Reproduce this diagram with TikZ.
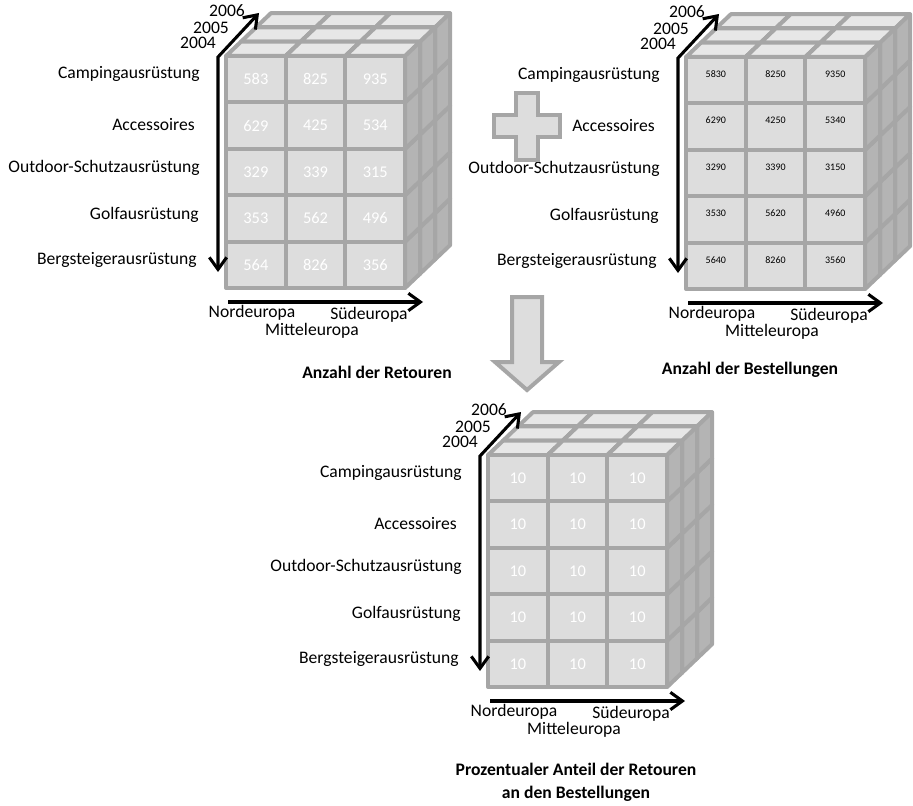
\documentclass[tikz,border=0pt]{standalone}
\usepackage{fontspec}
\setmainfont{Carlito}
\usetikzlibrary{arrows.meta}

\definecolor{cubefront}{RGB}{221,221,221}
\definecolor{cubetop}{RGB}{231,231,231}
\definecolor{cubeside}{RGB}{180,180,180}
\definecolor{cubeedge}{RGB}{166,166,166}

\tikzset{
  face/.style={draw=cubeedge, line width=3pt, line join=round},
  axis/.style={line width=2.3pt, >={Straight Barb[length=9pt,width=13pt]}},
  catlabel/.style={anchor=east, inner sep=0pt, font=\fontsize{13.2}{15}\selectfont},
  dimlabel/.style={inner sep=0pt, font=\fontsize{13.2}{15}\selectfont},
  titlelabel/.style={inner sep=0pt, align=center, font=\fontsize{13.2}{17.5}\selectfont\bfseries},
  whitenum/.style={inner sep=0pt, white, font=\fontsize{12.3}{14}\selectfont},
  smallnum/.style={inner sep=0pt, black, yshift=4.5pt, font=\fontsize{7.5}{9}\selectfont}
}

% #1,#2: top left corner of the front face, #3: values, #4: number style, #5: name
\newcommand{\datacube}[5]{%
  \foreach \lay in {2,1,0}
  \foreach \row in {4,3,2,1,0}
  \foreach \col in {0,1,2} {
    \coordinate (p) at ({#1+\col*59.7+\lay*15},{#2+\row*46.4-\lay*14.3});
    \draw[face,fill=cubetop] (p) -- ++(15,-14.3) -- ++(59.7,0) -- ++(-15,14.3) -- cycle;
    \draw[face,fill=cubeside] ([shift={(59.7,0)}]p) -- ++(15,-14.3) -- ++(0,46.4) -- ++(-15,14.3) -- cycle;
    \draw[face,fill=cubefront] (p) rectangle ++(59.7,46.4);
  }
  \foreach \v [count=\i from 0] in {#3} {
    \pgfmathtruncatemacro{\row}{floor(\i/3)}
    \pgfmathtruncatemacro{\col}{\i-3*\row}
    \node[#4] (#5-\i) at ({#1+\col*59.7+29.85},{#2+\row*46.4+23.2}) {\v};
  }
  % axes
  \coordinate (#5-o) at (#1-8,#2+1);
  \coordinate (#5-down) at (#1-8,#2+216);
  \coordinate (#5-back) at (#1+33,#2-43);
  \coordinate (#5-west) at (#1+2,#2+246);
  \coordinate (#5-east) at (#1+197,#2+246);
  \draw[axis,<->] (#5-down) -- (#5-o) -- (#5-back);
  \draw[axis,->] (#5-west) -- (#5-east);
  \node[dimlabel] (#5-y6) at (#1+1,#2-45) {2006};
  \node[dimlabel] (#5-y5) at (#1-15,#2-28) {2005};
  \node[dimlabel] (#5-y4) at (#1-28,#2-13) {2004};
  \node[catlabel] (#5-camp) at (#1-26,#2+18) {Campingausrüstung};
  \node[catlabel] (#5-acc) at (#1-31,#2+69) {Accessoires};
  \node[catlabel] (#5-out) at (#1-26,#2+112) {Outdoor-Schutzausrüstung};
  \node[catlabel] (#5-golf) at (#1-27,#2+159) {Golfausrüstung};
  \node[catlabel] (#5-berg) at (#1-29,#2+204) {Bergsteigerausrüstung};
  \node[dimlabel] (#5-nord) at (#1+26,#2+257) {Nordeuropa};
  \node[dimlabel] (#5-sued) at (#1+143,#2+259) {Südeuropa};
  \node[dimlabel] (#5-mitte) at (#1+86,#2+275) {Mitteleuropa};
}

\begin{document}
\begin{tikzpicture}[x=0.75pt,y=-0.75pt]
\useasboundingbox (0,0) rectangle (913,806);

\datacube{226}{56}{583,825,935,629,425,534,329,339,315,353,562,496,564,826,356}{whitenum}{ret}
\datacube{686}{57}{5830,8250,9350,6290,4250,5340,3290,3390,3150,3530,5620,4960,5640,8260,3560}{smallnum}{best}
\datacube{488}{455}{10,10,10,10,10,10,10,10,10,10,10,10,10,10,10}{whitenum}{ant}

% plus and arrow
\coordinate (plus) at (527,126);
\draw[face,fill=cubefront,line join=miter] (plus) ++(-11,-33) -- ++(22,0) -- ++(0,22) -- ++(22,0)
  -- ++(0,22) -- ++(-22,0) -- ++(0,23) -- ++(-22,0) -- ++(0,-23) -- ++(-22,0) -- ++(0,-22)
  -- ++(22,0) -- cycle;
\coordinate (tip) at (527,390);
\draw[face,fill=cubefront,line join=miter] (tip) -- ++(-32,-28) -- ++(17,0) -- ++(0,-65)
  -- ++(30,0) -- ++(0,65) -- ++(17,0) -- cycle;

\node[titlelabel] (t-ret) at (377,372) {Anzahl der Retouren};
\node[titlelabel] (t-best) at (750,370) {Anzahl der Bestellungen};
\node[titlelabel] (t-ant) at (576,782) {Prozentualer Anteil der Retouren\\an den Bestellungen};
\end{tikzpicture}
\end{document}
